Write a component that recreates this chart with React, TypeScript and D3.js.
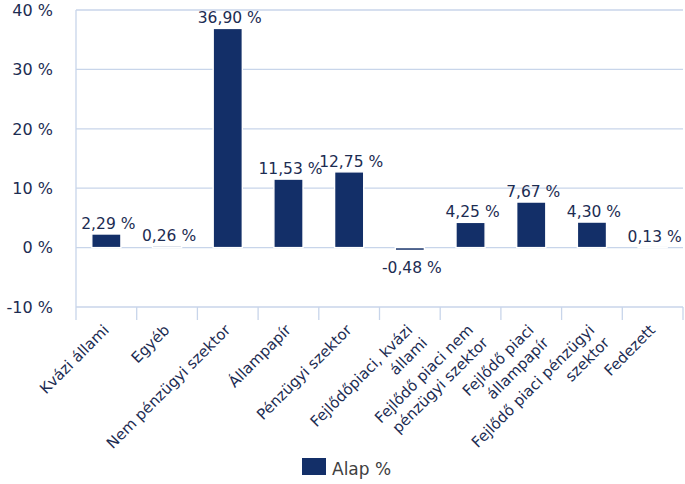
import React from "react";
import * as d3 from "d3";

const categories: string[] = [
  "Kvázi állami",
  "Egyéb",
  "Nem pénzügyi szektor",
  "Állampapír",
  "Pénzügyi szektor",
  "Fejlődőpiaci, kvázi állami",
  "Fejlődő piaci nem pénzügyi szektor",
  "Fejlődő piaci állampapír",
  "Fejlődő piaci pénzügyi szektor",
  "Fedezett",
];
const labelLines: string[][] = [
  ["Kvázi állami"],
  ["Egyéb"],
  ["Nem pénzügyi szektor"],
  ["Állampapír"],
  ["Pénzügyi szektor"],
  ["Fejlődőpiaci, kvázi", "állami"],
  ["Fejlődő piaci nem", "pénzügyi szektor"],
  ["Fejlődő piaci", "állampapír"],
  ["Fejlődő piaci pénzügyi", "szektor"],
  ["Fedezett"],
];
const alapValues: number[] = [2.29, 0.26, 36.9, 11.53, 12.75, -0.48, 4.25, 7.67, 4.3, 0.13];
const yTicks: number[] = [-10, 0, 10, 20, 30, 40];
const seriesName = "Alap %";

const W = 685;
const H = 484;
const left = 76;
const right = 683;
const top = 10;
const bottom = 307;

const BAR = "#132f68";
const TEXT = "#1c2c52";
const GRID = "#c8d5ea";
const FONT = "'DejaVu Sans', Verdana, sans-serif";

const fmt = (v: number) => v.toFixed(2).replace(".", ",") + " %";

export default function App() {
  const x = d3.scaleBand<string>().domain(categories).range([left, right]).paddingInner(0.52).paddingOuter(0.26);
  const y = d3.scaleLinear().domain([-10, 40]).range([bottom, top]);
  const bw = x.bandwidth();
  const boundaries = d3.range(categories.length + 1).map((i) => left + i * ((right - left) / categories.length));

  return (
    <svg
      width={W}
      height={H}
      style={{ position: "absolute", left: 0, top: 0, background: "#fff" }}
      fontFamily={FONT}
    >
      {yTicks.map((t) => (
        <line key={"g" + t} x1={left} x2={right} y1={y(t)} y2={y(t)} stroke={GRID} strokeWidth={1.3} />
      ))}
      <line x1={left} x2={left} y1={y(40)} y2={y(-10)} stroke={GRID} strokeWidth={1.3} />
      {boundaries.map((bx, i) => (
        <line key={"t" + i} x1={bx} x2={bx} y1={y(-10)} y2={y(-10) + 13} stroke={GRID} strokeWidth={1.3} />
      ))}
      {yTicks.map((t) => (
        <text key={"yl" + t} x={53} y={y(t)} dy="0.36em" textAnchor="end" fontSize={16} fill={TEXT}>
          {t + " %"}
        </text>
      ))}
      {alapValues.map((v, i) => {
        const x0 = x(categories[i])!;
        const y0 = Math.min(y(v), y(0));
        const h = Math.abs(y(v) - y(0));
        return <rect key={"b" + i} x={x0} y={y0} width={bw} height={h} fill={BAR} stroke="#fff" strokeWidth={1.4} />;
      })}
      {alapValues.map((v, i) => {
        const cx = x(categories[i])! + bw / 2 + 2;
        const ly = v >= 0 ? y(v) - 5 : y(v) + 23;
        return (
          <text key={"v" + i} x={cx} y={ly} textAnchor="middle" fontSize={15.5} fill={TEXT}>
            {fmt(v)}
          </text>
        );
      })}
      {labelLines.map((lines, i) => {
        const cx = x(categories[i])! + bw / 2;
        return (
          <g key={"c" + i} transform={`translate(${cx + 3.5},${331}) rotate(-45)`}>
            {lines.map((ln, j) => (
              <text key={j} x={j * 1.5} y={0} dy={`${j * 1.3}em`} textAnchor="end" fontSize={15} fill={TEXT}>
                {ln}
              </text>
            ))}
          </g>
        );
      })}
      <rect x={302} y={458} width={24} height={17} fill={BAR} />
      <text x={332} y={475} fontSize={17} fill="#404040">
        {seriesName}
      </text>
    </svg>
  );
}
